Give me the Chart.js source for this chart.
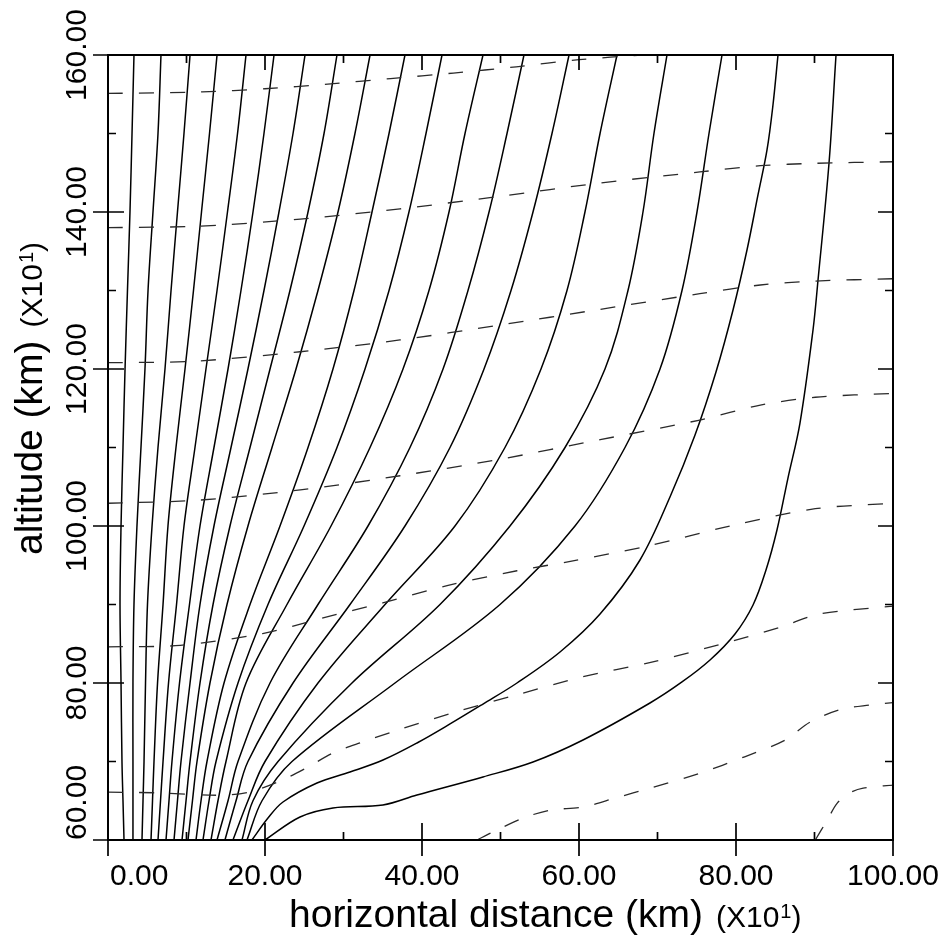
<!DOCTYPE html>
<html lang="en">
<head>
<meta charset="UTF-8">
<title>Ray paths</title>
<style>
  html, body { margin: 0; padding: 0; background: #fff; }
  .chart-container { position: relative; width: 950px; height: 944px; }
</style>
</head>
<body>
<div class="chart-container"><canvas id="rayChart"></canvas></div>
<script src="https://cdn.jsdelivr.net/npm/chart.js"></script>
<script>
// altitude levels (x10 km) where the rays below are sampled
const rayLevels = [60, 65, 70, 80, 90, 100, 110, 120, 130, 140, 150, 160];

// horizontal distance (x10 km) of each ray at rayLevels
const ray01 = [2.04, 1.91, 1.78, 1.66, 1.53, 1.66, 1.91, 2.17, 2.48, 2.80, 3.06, 3.31];
const ray02 = [3.18, 3.18, 3.18, 3.18, 3.31, 3.69, 4.20, 4.71, 5.10, 5.73, 6.37, 6.75];
const ray03 = [4.33, 4.46, 4.59, 4.78, 5.03, 5.61, 6.37, 7.26, 8.03, 8.85, 9.68, 10.45];
const ray04 = [5.48, 5.67, 5.86, 6.31, 7.01, 7.64, 8.66, 9.81, 10.89, 11.91, 12.93, 13.89];
const ray05 = [6.37, 6.69, 7.01, 7.71, 8.73, 9.68, 11.08, 12.48, 13.89, 15.22, 16.50, 17.58];
const ray06 = [7.39, 7.77, 8.15, 9.11, 10.38, 11.72, 13.50, 15.29, 16.94, 18.47, 19.87, 21.15];
const ray07 = [8.41, 8.85, 9.30, 10.45, 11.72, 13.50, 15.67, 17.83, 19.87, 21.78, 23.57, 25.10];
const ray08 = [9.43, 9.94, 10.45, 11.72, 13.38, 15.54, 18.09, 20.64, 23.18, 25.48, 27.52, 29.17];
const ray09 = [10.19, 10.76, 11.34, 12.99, 15.16, 17.83, 20.89, 23.95, 26.75, 29.30, 31.46, 33.38];
const ray10 = [11.21, 11.85, 12.61, 14.78, 18.09, 21.91, 25.48, 28.66, 31.34, 33.63, 35.80, 37.83];
const ray11 = [12.10, 12.87, 13.76, 16.56, 20.38, 24.97, 29.17, 32.74, 35.80, 38.34, 40.51, 42.55];
const ray12 = [13.12, 14.01, 15.03, 17.58, 22.80, 28.41, 33.38, 37.58, 40.89, 43.44, 45.48, 47.77];
const ray13 = [13.89, 15.29, 16.56, 20.64, 26.75, 33.12, 38.47, 42.68, 45.86, 48.54, 50.83, 52.99];
const ray14 = [14.90, 16.31, 17.83, 23.57, 30.83, 37.83, 43.57, 47.90, 51.34, 54.14, 56.56, 58.73];
const ray15 = [15.92, 17.83, 20.00, 26.75, 35.29, 44.20, 50.57, 55.16, 58.47, 60.76, 62.68, 64.84];
const ray16 = [17.07, 18.47, 21.66, 31.08, 42.29, 51.21, 58.22, 63.31, 66.24, 68.15, 69.55, 71.21];
const ray17 = [17.71, 19.62, 23.44, 36.56, 49.94, 59.49, 65.86, 70.32, 73.12, 75.03, 76.56, 78.22];

// the two low rays run almost level for a while, so they are kept as [x, y] pairs
const ray18 = [[18.34, 60.0], [20.38, 62.80], [22.29, 64.84], [26.62, 67.26], [30.83, 68.66],
  [35.03, 70.19], [39.36, 72.36], [43.57, 74.78], [47.77, 77.32], [52.10, 80.0], [57.58, 83.95],
  [62.68, 88.79], [67.77, 95.67], [71.59, 103.69], [74.78, 111.59], [77.45, 119.62],
  [79.62, 127.52], [81.40, 135.16], [82.80, 142.17], [83.95, 147.90], [84.71, 153.63], [85.35, 160]];
const ray19 = [[20.0, 60.0], [24.46, 62.93], [28.66, 64.08], [35.03, 64.46], [39.36, 65.73],
  [47.77, 68.03], [54.14, 69.94], [60.51, 72.74], [69.04, 77.45], [73.12, 80.13], [76.69, 82.93],
  [79.87, 86.24], [82.17, 89.94], [83.82, 94.39], [85.22, 99.49], [86.62, 106.11], [88.15, 113.12],
  [89.81, 124.97], [90.45, 131.34], [91.85, 146.24], [92.74, 160]];

// wave fronts (dashed), [x, y] pairs
const front1 = [[0, 155.1], [12, 155.3], [20, 155.7], [28, 156.3], [36, 157.0], [44, 157.7], [52, 158.5], [60, 159.4], [68, 160]];
const front2 = [[0, 138.0], [11.7, 138.2], [24.5, 139.1], [37.2, 140.4], [49.9, 142.0], [62.7, 143.7], [75.4, 145.1], [83.1, 145.9], [90.1, 146.2], [100, 146.4]];
const front3 = [[0, 120.8], [11.1, 121.0], [24.5, 122.2], [37.2, 123.7], [49.9, 125.6], [62.7, 127.6], [75.4, 129.6], [83.1, 130.7], [90.1, 131.2], [100, 131.5]];
const front4 = [[0, 102.9], [11.7, 103.3], [24.5, 104.6], [37.2, 106.4], [49.9, 108.5], [62.7, 111.0], [75.4, 113.5], [83.1, 115.4], [90.1, 116.4], [100, 116.9]];
const front5 = [[0, 84.6], [9.2, 84.8], [19.7, 86.3], [27.4, 88.3], [35.0, 90.2], [43.2, 92.4], [52.1, 94.3], [58.9, 95.5], [69.0, 97.5], [79.2, 100.0], [90.1, 102.2], [100, 102.9]];
const front6 = [[0, 66.1], [6.6, 66.0], [14.2, 65.7], [18.0, 66.1], [21.9, 67.5], [25.3, 69.2], [28.7, 71.1], [32.5, 72.5], [36.3, 73.8], [43.9, 76.2], [52.1, 78.5], [60.5, 80.8], [69.0, 82.6], [77.9, 84.9], [85.6, 87.1], [90.7, 88.8], [100, 89.8]];
const front7 = [[47.0, 60.0], [49.0, 61.0], [52.9, 62.8], [56.3, 63.8], [60.5, 64.2], [64.8, 65.4], [69.0, 66.6], [75.4, 68.5], [81.1, 70.6], [86.2, 72.7], [89.4, 75.0], [93.2, 76.6], [97.1, 77.2], [100, 77.5]];
const front8 = [[90.1, 60.0], [91.6, 62.5], [92.9, 64.7], [94.5, 66.0], [96.2, 66.6], [100, 67.0]];

// axis ticks and labels
const xMajorTicks = [0, 20, 40, 60, 80, 100];
const xMinorTicks = [10, 30, 50, 70, 90];
const yMajorTicks = [60, 80, 100, 120, 140, 160];
const yMinorTicks = [70, 90, 110, 130, 150];
const xTitle = 'horizontal distance (km)';
const yTitle = 'altitude (km)';
const scaleNote = ['(X10', '1', ')'];

const levelRays = [ray01, ray02, ray03, ray04, ray05, ray06, ray07, ray08, ray09,
  ray10, ray11, ray12, ray13, ray14, ray15, ray16, ray17];
const pairRays = [ray18, ray19];
const fronts = [front1, front2, front3, front4, front5, front6, front7, front8];

const toPoints = pairs => pairs.map(p => ({ x: p[0], y: p[1] }));

const datasets = [];
fronts.forEach(f => datasets.push({
  data: toPoints(f),
  borderColor: '#2a2a2a',
  borderWidth: 1.3,
  borderDash: [15, 16],
  tension: 0.3
}));
levelRays.forEach(r => datasets.push({
  data: r.map((x, i) => ({ x: x, y: rayLevels[i] })),
  borderColor: '#000',
  borderWidth: 1.5,
  tension: 0.35
}));
pairRays.forEach(r => datasets.push({
  data: toPoints(r),
  borderColor: '#000',
  borderWidth: 1.5,
  tension: 0.35
}));

const FONT = '"Liberation Sans", Arial, Helvetica, sans-serif';

// box, inward/outward ticks, tick labels and axis titles
const framePlugin = {
  id: 'frame',
  afterDatasetsDraw(chart) {
    const { ctx, chartArea: a, scales: { x, y } } = chart;
    ctx.save();
    ctx.strokeStyle = '#000';
    ctx.fillStyle = '#000';
    ctx.lineWidth = 2;
    ctx.strokeRect(a.left, a.top, a.right - a.left, a.bottom - a.top);

    ctx.lineWidth = 1.7;
    ctx.beginPath();
    xMajorTicks.forEach(v => {
      const px = x.getPixelForValue(v);
      ctx.moveTo(px, a.bottom + 16); ctx.lineTo(px, a.bottom - 17);
      ctx.moveTo(px, a.top); ctx.lineTo(px, a.top + 15);
    });
    xMinorTicks.forEach(v => {
      const px = x.getPixelForValue(v);
      ctx.moveTo(px, a.bottom); ctx.lineTo(px, a.bottom - 8);
      ctx.moveTo(px, a.top); ctx.lineTo(px, a.top + 8);
    });
    yMajorTicks.forEach(v => {
      const py = y.getPixelForValue(v);
      ctx.moveTo(a.left - 15, py); ctx.lineTo(a.left + 16, py);
      ctx.moveTo(a.right, py); ctx.lineTo(a.right - 15, py);
    });
    yMinorTicks.forEach(v => {
      const py = y.getPixelForValue(v);
      ctx.moveTo(a.left, py); ctx.lineTo(a.left + 8, py);
      ctx.moveTo(a.right, py); ctx.lineTo(a.right - 8, py);
    });
    ctx.stroke();

    // tick labels
    ctx.font = '30px ' + FONT;
    ctx.textBaseline = 'alphabetic';
    xMajorTicks.forEach((v, i) => {
      const px = x.getPixelForValue(v);
      ctx.textAlign = i === 0 ? 'left' : 'center';
      ctx.fillText(v.toFixed(2), i === 0 ? px + 2 : px, a.bottom + 45);
    });
    yMajorTicks.forEach((v, i) => {
      const py = y.getPixelForValue(v);
      ctx.save();
      ctx.translate(a.left - 22, py);
      ctx.rotate(-Math.PI / 2);
      ctx.textAlign = i === 0 ? 'left' : 'center';
      ctx.fillText(v.toFixed(2), 0, 0);
      ctx.restore();
    });

    // axis title followed by the (X10^1) scale note
    const drawTitle = (text, startX, baseY) => {
      ctx.textAlign = 'left';
      ctx.font = '39px ' + FONT;
      ctx.fillText(text, startX, baseY);
      let cx = startX + ctx.measureText(text).width + 13;
      ctx.font = '30px ' + FONT;
      ctx.fillText(scaleNote[0], cx, baseY);
      cx += ctx.measureText(scaleNote[0]).width + 1;
      ctx.font = '20px ' + FONT;
      ctx.fillText(scaleNote[1], cx, baseY - 9);
      cx += ctx.measureText(scaleNote[1]).width;
      ctx.font = '30px ' + FONT;
      ctx.fillText(scaleNote[2], cx, baseY);
    };
    drawTitle(xTitle, 289, a.bottom + 87);

    ctx.save();
    ctx.translate(42, 555);
    ctx.rotate(-Math.PI / 2);
    drawTitle(yTitle, 0, 0);
    ctx.restore();

    ctx.restore();
  }
};

const ctx = document.getElementById('rayChart');
new Chart(ctx, {
  type: 'scatter',
  data: { datasets: datasets },
  options: {
    responsive: true,
    maintainAspectRatio: false,
    animation: false,
    layout: { padding: { left: 108, top: 55, right: 57, bottom: 104 } },
    elements: {
      point: { radius: 0, hoverRadius: 0 },
      line: { fill: false }
    },
    datasets: { scatter: { showLine: true } },
    scales: {
      x: { type: 'linear', min: 0, max: 100, display: false },
      y: { type: 'linear', min: 60, max: 160, display: false }
    },
    plugins: {
      legend: { display: false },
      tooltip: { enabled: false }
    }
  },
  plugins: [framePlugin]
});
</script>
</body>
</html>
